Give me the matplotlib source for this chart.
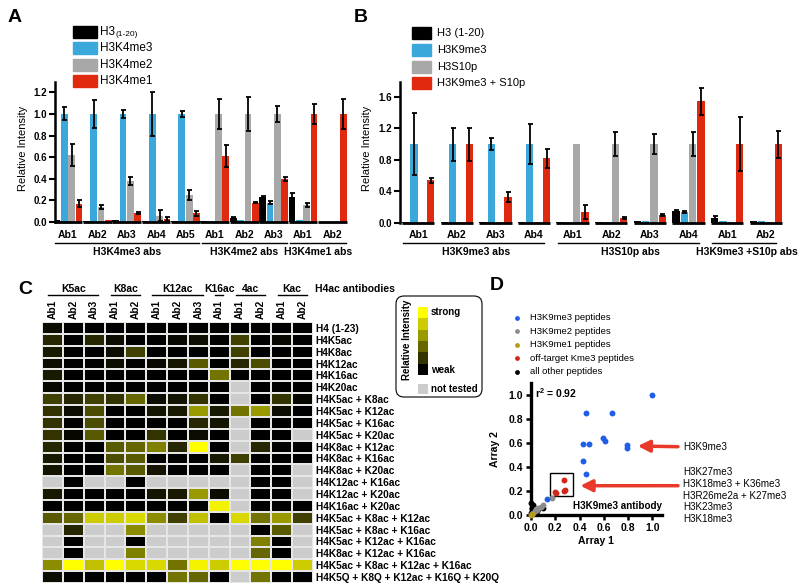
import numpy as np
import matplotlib
matplotlib.use("Agg")
import matplotlib.pyplot as plt
from matplotlib import transforms
from matplotlib.colors import LinearSegmentedColormap
from matplotlib.patches import Rectangle, FancyBboxPatch

plt.rcParams['font.family'] = ['Liberation Sans', 'DejaVu Sans']
plt.rcParams['mathtext.fontset'] = 'custom'
plt.rcParams['mathtext.rm'] = 'Liberation Sans'
plt.rcParams['mathtext.bf'] = 'Liberation Sans:bold'

W, H = 800, 588

# ---------------- panel A data
a_labels = ["H3", "H3K4me3", "H3K4me2", "H3K4me1"]
a_first_sub = "(1-20)"
a_abs = ["Ab1", "Ab2", "Ab3", "Ab4", "Ab5", "Ab1", "Ab2", "Ab3", "Ab1", "Ab2"]
a_families = ["H3K4me3 abs", "H3K4me2 abs", "H3K4me1 abs"]
a_family_groups = [(0, 4), (5, 7), (8, 9)]
a_h3 = [0.02, 0.01, 0.02, 0.01, 0.01, 0.01, 0.04, 0.23, 0.23, 0.0]
a_h3_err = [0, 0, 0, 0, 0, 0, 0.005, 0.01, 0.04, 0]
a_k4me3 = [1.0, 1.0, 1.0, 1.0, 1.0, 0.01, 0.02, 0.18, 0.02, 0.0]
a_k4me3_err = [0.06, 0.13, 0.04, 0.20, 0.03, 0, 0, 0.01, 0, 0]
a_k4me2 = [0.62, 0.14, 0.38, 0.06, 0.25, 1.0, 1.0, 1.0, 0.16, 0.0]
a_k4me2_err = [0.10, 0.02, 0.04, 0.05, 0.05, 0.14, 0.16, 0.07, 0.02, 0]
a_k4me1 = [0.17, 0.02, 0.08, 0.03, 0.08, 0.61, 0.18, 0.40, 1.0, 1.0]
a_k4me1_err = [0.03, 0, 0.01, 0.02, 0.02, 0.10, 0.005, 0.02, 0.09, 0.14]

# ---------------- panel B data
b_labels = ["H3 (1-20)", "H3K9me3", "H3S10p", "H3K9me3 + S10p"]
b_abs = ["Ab1", "Ab2", "Ab3", "Ab4", "Ab1", "Ab2", "Ab3", "Ab4", "Ab1", "Ab2"]
b_families = ["H3K9me3 abs", "H3S10p abs", "H3K9me3 +S10p abs"]
b_family_groups = [(0, 3), (4, 7), (8, 9)]
b_h3 = [0.01, 0.01, 0.01, 0.01, 0.01, 0.01, 0.02, 0.15, 0.06, 0.02]
b_h3_err = [0, 0, 0, 0, 0, 0, 0, 0.02, 0.03, 0]
b_k9me3 = [1.0, 1.0, 1.0, 1.0, 0.01, 0.01, 0.02, 0.14, 0.02, 0.02]
b_k9me3_err = [0.39, 0.21, 0.08, 0.25, 0, 0, 0, 0.01, 0, 0]
b_s10p = [0.01, 0.01, 0.01, 0.01, 1.0, 1.0, 1.0, 1.0, 0.01, 0.01]
b_s10p_err = [0, 0, 0, 0, 0, 0.15, 0.13, 0.15, 0, 0]
b_k9s10 = [0.54, 1.0, 0.33, 0.82, 0.14, 0.06, 0.10, 1.54, 1.0, 1.0]
b_k9s10_err = [0.03, 0.21, 0.06, 0.12, 0.09, 0.01, 0.01, 0.17, 0.34, 0.17]

bar_colors = ["#000000", "#3aa8da", "#a8a8a8", "#df2a10"]

# ---------------- panel C data
c_groups = ["K5ac", "K8ac", "K12ac", "K16ac", "4ac", "Kac"]
c_group_cols = [(0, 2), (3, 4), (5, 7), (8, 8), (9, 10), (11, 12)]
c_cols = ["Ab1", "Ab2", "Ab3", "Ab1", "Ab2", "Ab1", "Ab2", "Ab3", "Ab1", "Ab1", "Ab2", "Ab1", "Ab2"]
c_rows = ["H4 (1-23)", "H4K5ac", "H4K8ac", "H4K12ac", "H4K16ac", "H4K20ac",
          "H4K5ac + K8ac", "H4K5ac + K12ac", "H4K5ac + K16ac", "H4K5ac + K20ac",
          "H4K8ac + K12ac", "H4K8ac + K16ac", "H4K8ac + K20ac", "H4K12ac + K16ac",
          "H4K12ac + K20ac", "H4K16ac + K20ac", "H4K5ac + K8ac + K12ac",
          "H4K5ac + K8ac + K16ac", "H4K5ac + K12ac + K16ac", "H4K8ac + K12ac + K16ac",
          "H4K5ac + K8ac + K12ac + K16ac", "H4K5Q + K8Q + K12ac + K16Q + K20Q"]
n = np.nan
c_vals = np.array([
    [0.05, 0, 0, 0, 0, 0, 0, 0, 0, 0, 0, 0, 0],
    [0.15, 0, 0.15, 0.05, 0, 0, 0.03, 0.05, 0, 0.25, 0, 0.03, 0],
    [0.10, 0, 0, 0.05, 0.25, 0, 0, 0, 0, 0.25, 0, 0, 0],
    [0.05, 0, 0, 0.05, 0, 0.03, 0.08, 0.35, 0, 0.15, 0.30, 0, 0],
    [0.10, 0, 0, 0, 0, 0, 0, 0, 0.45, 0, 0, 0, 0],
    [0.03, 0, 0, 0, 0, 0, 0, 0, 0, n, 0, 0, 0],
    [0.25, 0.15, 0.25, 0.20, 0.40, 0.05, 0.08, 0.20, 0, n, 0, 0.20, 0.03],
    [0.20, 0.05, 0.30, 0, 0, 0.08, 0.10, 0.60, 0.10, 0.45, 0.60, 0.05, 0],
    [0.20, 0, 0.30, 0, 0, 0, 0, 0.15, 0.08, n, 0, 0, 0],
    [0.20, 0.03, 0.35, 0, 0, 0.20, 0, 0.05, 0, n, 0, 0, n],
    [0.15, 0, 0, 0.35, 0.40, 0.50, 0.15, 1.0, 0, n, 0.15, 0, 0],
    [0.10, 0, 0, 0.30, 0.35, 0, 0, 0, 0.10, 0.25, 0, 0, 0],
    [0.08, 0, 0, 0.45, 0.35, 0.08, 0, 0, 0, n, 0, 0, n],
    [n, 0, n, n, 0, n, n, n, n, n, 0, 0, n],
    [0.10, 0, 0, 0, 0, 0.08, 0.10, 0.60, 0.05, n, 0, 0, n],
    [0, 0, 0, 0, 0, 0, 0, 0, 0.95, n, 0, 0, 0],
    [0.35, 0.40, 0.80, 0.80, 0.85, 0.55, 0.25, 0.75, 0, 0.85, 0.45, 0.60, 0.25],
    [n, 0.15, n, n, 0.55, n, n, n, n, n, 0, 0.35, n],
    [n, 0, n, n, 0, n, n, n, n, n, 0.50, 0, n],
    [n, 0, n, n, 0.50, n, n, n, n, n, 0.40, 0, n],
    [0.55, 1.0, 0.75, 1.0, 0.85, 0.85, 0.45, 0.95, 0.80, 1.0, 1.0, 1.0, 0.80],
    [0.05, 0, 0, 0, 0, 0, 0.45, 0.40, 0, n, 0.45, 0, 0],
])

# ---------------- panel D data
d_labels = ["H3K9me3 peptides", "H3K9me2 peptides", "H3K9me1 peptides",
            "off-target Kme3 peptides", "all other peptides"]
d_colors = ["#1f5ee8", "#8c8c8c", "#b89a1a", "#d3261b", "#000000"]
blue_x = [1.0, 0.45, 0.67, 0.59, 0.61, 0.43, 0.48, 0.79, 0.79, 0.43, 0.45, 0.13]
blue_y = [1.0, 0.85, 0.85, 0.64, 0.62, 0.59, 0.59, 0.58, 0.56, 0.45, 0.34, 0.13]
gray_x = [0.17, 0.10, 0.06, 0.04, 0.03, 0.02, 0.05, 0.08, 0.01]
gray_y = [0.14, 0.08, 0.06, 0.05, 0.03, 0.02, 0.04, 0.07, 0.01]
gold_x = [0.0, 0.01]
gold_y = [0.0, 0.01]
red_x = [0.27, 0.28, 0.27, 0.20, 0.21]
red_y = [0.29, 0.21, 0.20, 0.19, 0.18]
black_x = [0.0, 0.02, 0.01, 0.09, 0.10, 0.06, 0.03, 0.02, 0.05, 0.0, 0.01]
black_y = [0.10, 0.08, 0.06, 0.07, 0.06, 0.05, 0.04, 0.02, 0.03, 0.02, 0.05]
offtarget_names = ["H3K27me3", "H3K18me3 + K36me3", "H3R26me2a + K27me3", "H3K23me3", "H3K18me3"]


def rect(l, t, r, b):
    return [l / W, 1 - b / H, (r - l) / W, (b - t) / H]


fig = plt.figure(figsize=(8, 5.88), dpi=100)
ov = fig.add_axes([0, 0, 1, 1], zorder=10)
ov.set_xlim(0, W)
ov.set_ylim(H, 0)
ov.axis("off")


def style_axis(ax):
    for s in ["top", "right", "bottom"]:
        ax.spines[s].set_visible(False)
    ax.spines["left"].set_linewidth(1.8)
    ax.tick_params(axis="y", width=1.5, length=4, labelsize=7, pad=1.5)
    for t in ax.get_yticklabels():
        t.set_fontweight("bold")
    ax.set_xticks([])


def bar_panel(ax, series, errs, abs_lbl, fams, fam_groups, step, width, top, yticks,
              fam_ext, ylab_x):
    ng = len(abs_lbl)
    x = np.arange(ng)
    for k, (vals, err) in enumerate(zip(series, errs)):
        xs = x + (k - 1.5) * step
        ax.bar(xs, vals, width=width, color=bar_colors[k], zorder=2)
        err = np.array(err)
        m = err > 0
        ax.errorbar(xs[m], np.array(vals)[m], yerr=err[m], fmt="none", ecolor="k",
                    elinewidth=1.3, capsize=1.8, capthick=1.3, zorder=3)
    ax.set_ylim(0, top)
    ax.set_yticks(yticks)
    ax.set_yticklabels([f"{v:.1f}" for v in yticks])
    style_axis(ax)
    tr = transforms.blended_transform_factory(ax.transData, ov.transData)
    half = 1.5 * step + width / 2
    for i in range(ng):
        ax.plot([i - half, i + half], [0, 0], color="k", lw=2, clip_on=False,
                solid_capstyle="butt", zorder=4)
        ov.text(i, 235, abs_lbl[i], transform=tr, ha="center", va="center",
                fontsize=7.5, fontweight="bold")
    for name, (s, e) in zip(fams, fam_groups):
        ov.plot([s - fam_ext[0], e + fam_ext[1]], [243, 243], color="k", lw=1,
                transform=tr)
        ov.text((s + e) / 2, 252, name, transform=tr, ha="center", va="center",
                fontsize=7.5, fontweight="bold")
    ov.text(ylab_x, 148, "Relative Intensity", rotation=90, ha="center", va="center",
            fontsize=8)


# ---------------- A
axA = fig.add_axes(rect(55, 82, 350, 222))
axA.set_xlim(-0.44, 9.6)
bar_panel(axA, [a_h3, a_k4me3, a_k4me2, a_k4me1],
          [a_h3_err, a_k4me3_err, a_k4me2_err, a_k4me1_err],
          a_abs, a_families, a_family_groups, 0.25, 0.23, 1.296,
          [0.0, 0.2, 0.4, 0.6, 0.8, 1.0, 1.2], (0.45, 0.45), 23)
for k, lab in enumerate(a_labels):
    y = 32 + 16.3 * k
    ov.add_patch(Rectangle((73, y - 6), 24, 12, color=bar_colors[k]))
    ov.text(100, y, lab, va="center", fontsize=8.5)
ov.text(115.5, 35, a_first_sub, va="center", fontsize=6)

# ---------------- B
axB = fig.add_axes(rect(400, 82, 785, 223))
axB.set_xlim(-0.47, 9.5)
bar_panel(axB, [b_h3, b_k9me3, b_s10p, b_k9s10],
          [b_h3_err, b_k9me3_err, b_s10p_err, b_k9s10_err],
          b_abs, b_families, b_family_groups, 0.216, 0.19, 1.787,
          [0.0, 0.4, 0.8, 1.2, 1.6], (0.38, 0.27), 367)
for k, lab in enumerate(b_labels):
    y = 33 + 16.8 * k
    ov.add_patch(Rectangle((412, y - 6), 19, 12, color=bar_colors[k]))
    ov.text(437, y, lab, va="center", fontsize=8)

ov.text(15, 17, "A", fontsize=14, fontweight="bold", ha="center", va="center")
ov.text(361, 17, "B", fontsize=14, fontweight="bold", ha="center", va="center")
ov.text(25, 290, "C", fontsize=14, fontweight="bold", ha="center", va="center")
ov.text(497, 285, "D", fontsize=14, fontweight="bold", ha="center", va="center")

# ---------------- C
cmap = LinearSegmentedColormap.from_list("by", ["#000000", "#ffff00"])
cmap.set_bad("#cccccc")
axC = fig.add_axes(rect(42, 322, 313, 583))
nr, nc = c_vals.shape
axC.pcolormesh(np.arange(nc + 1) - 0.5, np.arange(nr + 1) - 0.5,
               np.ma.masked_invalid(c_vals), cmap=cmap, vmin=0, vmax=1,
               edgecolors="#e6e6e6", linewidth=1.2)
axC.set_xlim(-0.5, nc - 0.5)
axC.set_ylim(nr - 0.5, -0.5)
for s in axC.spines.values():
    s.set_visible(False)
axC.yaxis.tick_right()
axC.set_yticks(range(nr))
axC.set_yticklabels(c_rows, fontsize=7.3, fontweight="bold")
axC.xaxis.tick_top()
axC.set_xticks(range(nc))
axC.set_xticklabels(c_cols, rotation=90, fontsize=7.3, fontweight="bold")
axC.tick_params(length=0, pad=2)
trC = transforms.blended_transform_factory(axC.transData, ov.transData)
for name, (s, e) in zip(c_groups, c_group_cols):
    ov.plot([s - 0.5 + 0.3, e + 0.5 - 0.3], [295, 295], color="k", lw=1, transform=trC)
    ov.text((s + e) / 2, 289, name, transform=trC, ha="center", va="center",
            fontsize=7.5, fontweight="bold")
ov.text(315, 289, "H4ac antibodies", ha="left", va="center", fontsize=7.5,
        fontweight="bold")

# legend box for C
ov.add_patch(FancyBboxPatch((396, 296), 86, 101, boxstyle="round,pad=0,rounding_size=8",
                            fc="white", ec="k", lw=0.8))
for k, lev in enumerate([1.0, 0.8, 0.6, 0.4, 0.2, 0.0]):
    ov.add_patch(Rectangle((418, 307 + 11.3 * k), 10, 11.3, color=cmap(lev), lw=0))
ov.add_patch(Rectangle((418, 384), 10, 10, color="#cccccc", lw=0))
ov.text(431, 312, "strong", va="center", fontsize=7, fontweight="bold")
ov.text(431, 370, "weak", va="center", fontsize=7, fontweight="bold")
ov.text(431, 389, "not tested", va="center", fontsize=7, fontweight="bold")
ov.text(407, 340, "Relative Intensity", rotation=90, ha="center", va="center",
        fontsize=7, fontweight="bold")

# ---------------- D
axD = fig.add_axes(rect(531, 383, 662, 515))
axD.set_xlim(0, 1.08)
axD.set_ylim(0, 1.1)
sz = 18
axD.scatter(black_x, black_y, s=sz, color=d_colors[4], clip_on=False, zorder=3, lw=0)
axD.scatter(gray_x, gray_y, s=sz, color=d_colors[1], clip_on=False, zorder=3, lw=0)
axD.scatter(blue_x, blue_y, s=sz, color=d_colors[0], clip_on=False, zorder=3, lw=0)
axD.scatter(red_x, red_y, s=sz, color=d_colors[3], clip_on=False, zorder=3, lw=0)
axD.scatter(gold_x, gold_y, s=sz, color=d_colors[2], clip_on=False, zorder=4, lw=0)
axD.add_patch(Rectangle((0.154, 0.158), 0.19, 0.19, fill=False, ec="k", lw=1))
for s in ["top", "right"]:
    axD.spines[s].set_visible(False)
for s in ["left", "bottom"]:
    axD.spines[s].set_linewidth(2.4)
ticks = [0.0, 0.2, 0.4, 0.6, 0.8, 1.0]
axD.set_xticks(ticks)
axD.set_yticks(ticks)
axD.set_xticklabels([f"{t:.1f}" for t in ticks], fontweight="bold")
axD.set_yticklabels([f"{t:.1f}" for t in ticks], fontweight="bold")
axD.tick_params(width=1.8, length=3.5, labelsize=7.5, pad=2)
ov.text(596, 541, "Array 1", ha="center", va="center", fontsize=7.5, fontweight="bold")
ov.text(495, 449, "Array 2", rotation=90, ha="center", va="center", fontsize=7.5,
        fontweight="bold")
ov.text(535, 393, "r$^{\\mathbf{2}}$ = 0.92", va="center", fontsize=7.5,
        fontweight="bold")
ov.text(573, 506, "H3K9me3 antibody", va="center", fontsize=7.1, fontweight="bold")

for k, (lab, col) in enumerate(zip(d_labels, d_colors)):
    y = 317.5 + 13.6 * k
    ov.scatter([517], [y], s=12, color=col, lw=0)
    ov.text(530, y, lab, va="center", fontsize=6.8)

arrow = dict(arrowstyle="-|>,head_length=0.7,head_width=0.35", color="#e8392a",
             lw=2.5, shrinkA=0, shrinkB=0, mutation_scale=10)
axD.annotate("", xy=(0.88, 0.575), xycoords="data", xytext=(678, H - 446.7),
             textcoords="figure pixels", arrowprops=arrow, annotation_clip=False)
axD.annotate("", xy=(0.407, 0.244), xycoords="data", xytext=(678, H - 485.7),
             textcoords="figure pixels", arrowprops=arrow, annotation_clip=False)
ov.text(683, 447, "H3K9me3", va="center", fontsize=7.1)
for k, name in enumerate(offtarget_names):
    ov.text(683, 472 + 11.8 * k, name, va="center", fontsize=7.1)

fig.savefig("out.png", dpi=100)
